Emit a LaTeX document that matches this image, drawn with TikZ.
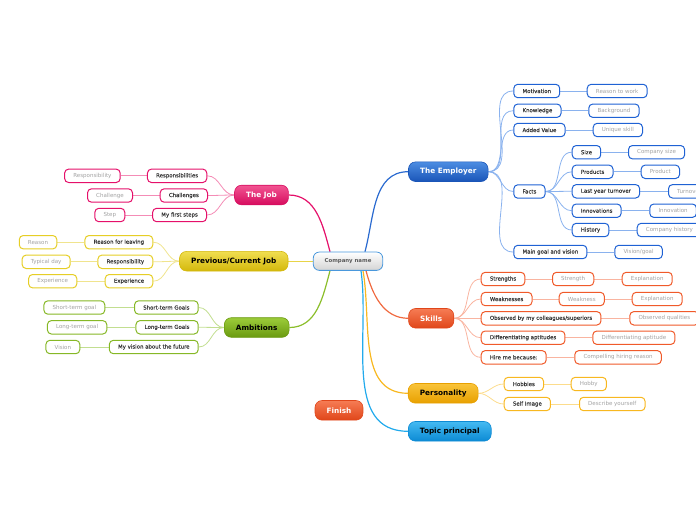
\documentclass[tikz,border=0pt]{standalone}
\usepackage{fontspec}
\setmainfont{DejaVu Sans}
\newfontfamily\subfnt[FakeBold=0.2]{DejaVu Sans}
\usetikzlibrary{calc,backgrounds}

\definecolor{eB}{HTML}{1F62D4}
\definecolor{eL}{HTML}{8AB2EE}
\definecolor{eM}{HTML}{2A6AD0}
\definecolor{eTop}{HTML}{4C8DE2}
\definecolor{eBot}{HTML}{1A55B8}
\definecolor{jB}{HTML}{E5106A}
\definecolor{jL}{HTML}{F48CB6}
\definecolor{jTop}{HTML}{F25592}
\definecolor{jBot}{HTML}{D60C5E}
\definecolor{pB}{HTML}{E6CE26}
\definecolor{pL}{HTML}{F0E48E}
\definecolor{pM}{HTML}{E8D448}
\definecolor{pTop}{HTML}{F0DE50}
\definecolor{pBot}{HTML}{D4B80C}
\definecolor{aB}{HTML}{86B826}
\definecolor{aL}{HTML}{C2DE90}
\definecolor{aM}{HTML}{8BBE2A}
\definecolor{aTop}{HTML}{9CCC3A}
\definecolor{aBot}{HTML}{6A9A10}
\definecolor{sB}{HTML}{F05A2A}
\definecolor{sL}{HTML}{F9B4A0}
\definecolor{sM}{HTML}{F06A40}
\definecolor{sTop}{HTML}{F67C54}
\definecolor{sBot}{HTML}{E0461A}
\definecolor{oB}{HTML}{F8B820}
\definecolor{oL}{HTML}{FCDC8C}
\definecolor{oM}{HTML}{F8B820}
\definecolor{oTop}{HTML}{F9C43A}
\definecolor{oBot}{HTML}{E8A000}
\definecolor{tB}{HTML}{1AA0E4}
\definecolor{tM}{HTML}{22AAEC}
\definecolor{tTop}{HTML}{44BAF2}
\definecolor{tBot}{HTML}{0C8AD4}
\definecolor{cB}{HTML}{4A98DC}

\tikzset{
  subbase/.style={rounded corners=4pt, minimum height=13.4pt, inner ysep=0pt, inner xsep=8.7pt, line width=1pt, fill=white},
  sub/.style={subbase, text=black!78, font=\subfnt\fontsize{5.42}{6}\selectfont},
  leaf/.style={subbase, text=black!36, font=\fontsize{5.52}{6}\selectfont},
  maintopic/.style={rounded corners=7pt, minimum height=19.6pt, inner ysep=0pt, inner xsep=11.6pt, line width=0.6pt, font=\fontsize{7.3}{8}\bfseries\selectfont},
  esub/.style={sub, draw=eB}, eleaf/.style={leaf, draw=eB},
  jsub/.style={sub, draw=jB}, jleaf/.style={leaf, draw=jB},
  psub/.style={sub, draw=pB}, pleaf/.style={leaf, draw=pB},
  asub/.style={sub, draw=aB}, aleaf/.style={leaf, draw=aB},
  ssub/.style={sub, draw=sB}, sleaf/.style={leaf, draw=sB},
  osub/.style={sub, draw=oB}, oleaf/.style={leaf, draw=oB},
  econ/.style={draw=eL, line width=0.8pt},
  jcon/.style={draw=jL, line width=0.8pt},
  pcon/.style={draw=pL, line width=0.8pt},
  acon/.style={draw=aL, line width=0.8pt},
  scon/.style={draw=sL, line width=0.8pt},
  ocon/.style={draw=oL, line width=0.8pt},
  maincon/.style={line width=1.2pt},
}

\begin{document}
\begin{tikzpicture}[x=1pt,y=-1pt]
\useasboundingbox (0,0) rectangle (696,520);
\clip (0,0) rectangle (696,520);

% central
\node[rounded corners=6pt, minimum height=18.3pt, inner ysep=0pt, inner xsep=11.3pt, line width=0.8pt, draw=cB, top color=white, bottom color=black!17, text=black!65, font=\fontsize{5.4}{6}\bfseries\selectfont] (cn) at (348,261.2) {Company name};

% main topics
\node[maintopic, draw=eBot, top color=eTop, bottom color=eBot, text=white] (emp) at (448.3,171.7) {The Employer};
\node[maintopic, draw=jBot, top color=jTop, bottom color=jBot, text=white] (job) at (261.5,195) {The Job};
\node[maintopic, draw=pBot, top color=pTop, bottom color=pBot, text=black] (prev) at (233.8,261.2) {Previous/Current Job};
\node[maintopic, draw=aBot, top color=aTop, bottom color=aBot, text=black] (amb) at (256.7,327.5) {Ambitions};
\node[maintopic, draw=sBot, top color=sTop, bottom color=sBot, text=white] (sk) at (431.2,318.3) {Skills};
\node[maintopic, draw=oBot, top color=oTop, bottom color=oBot, text=black] (pers) at (443.2,393.3) {Personality};
\node[maintopic, draw=tBot, top color=tTop, bottom color=tBot, text=black] (tp) at (449.8,431.3) {Topic principal};
\node[maintopic, draw=sBot, top color=sTop, bottom color=sBot, text=white] (fin) at (339,410.3) {Finish};

% Employer
\node[esub, anchor=west] (mot) at (513.3,91) {Motivation};
\node[esub, anchor=west] (kno) at (513.3,110.7) {Knowledge};
\node[esub, anchor=west] (addv) at (513.3,130) {Added Value};
\node[esub, anchor=west] (facts) at (513.3,191.5) {Facts};
\node[esub, anchor=west] (mgv) at (513.3,252) {Main goal and vision};
\node[eleaf, anchor=west] (rtw) at (586.7,91) {Reason to work};
\node[eleaf, anchor=west] (bkg) at (588.3,110.7) {Background};
\node[eleaf, anchor=west] (uns) at (592.7,130) {Unique skill};
\node[eleaf, anchor=west] (vg) at (614.3,252) {Vision/goal};
\node[esub, anchor=west] (size) at (571.7,152.2) {Size};
\node[esub, anchor=west] (prod) at (571.7,171.8) {Products};
\node[esub, anchor=west] (lyt) at (571.7,191.3) {Last year turnover};
\node[esub, anchor=west] (inno) at (571.7,210.7) {Innovations};
\node[esub, anchor=west] (hist) at (571.7,230) {History};
\node[eleaf, anchor=west] (csize) at (628,152.2) {Company size};
\node[eleaf, anchor=west] (prodl) at (640.7,171.8) {Product};
\node[eleaf, anchor=west] (turn) at (668,191.3) {Turnover};
\node[eleaf, anchor=west] (innol) at (649.3,210.7) {Innovation};
\node[eleaf, anchor=west] (chist) at (636.7,230) {Company history};

% Skills
\node[ssub, anchor=west] (str) at (480.7,279) {Strengths};
\node[ssub, anchor=west] (weak) at (480.7,299) {Weaknesses};
\node[ssub, anchor=west] (obs) at (480.7,318.3) {Observed by my colleagues/superiors};
\node[ssub, anchor=west] (diff) at (480.7,337.7) {Differentiating aptitudes};
\node[ssub, anchor=west] (hire) at (480.7,357.3) {Hire me because:};
\node[sleaf, anchor=west] (strl) at (552,279) {Strength};
\node[sleaf, anchor=west] (ex1) at (621.7,279) {Explanation};
\node[sleaf, anchor=west] (weakl) at (558.7,299) {Weakness};
\node[sleaf, anchor=west] (ex2) at (631.7,299) {Explanation};
\node[sleaf, anchor=west] (obsq) at (629.3,318.3) {Observed qualities};
\node[sleaf, anchor=west] (diffl) at (592.3,337.7) {Differentiating aptitude};
\node[sleaf, anchor=west] (chr) at (574.3,357.3) {Compelling hiring reason};

% Personality
\node[osub, anchor=west] (hob) at (503.7,384) {Hobbies};
\node[osub, anchor=west] (simg) at (503.7,404) {Self Image};
\node[oleaf, anchor=west] (hobl) at (570.7,384) {Hobby};
\node[oleaf, anchor=west] (desc) at (579,404) {Describe yourself};

% The Job
\node[jsub, anchor=east] (resps) at (207.3,175.8) {Responsibilities};
\node[jsub, anchor=east] (chals) at (208,195.5) {Challenges};
\node[jsub, anchor=east] (mfs) at (207,215) {My first steps};
\node[jleaf, anchor=east] (respl) at (120.7,175.8) {Responsibility};
\node[jleaf, anchor=east] (chall) at (133,195.5) {Challenge};
\node[jleaf, anchor=east] (stepl) at (125.3,215) {Step};

% Previous
\node[psub, anchor=east] (rfl) at (153.3,242.2) {Reason for leaving};
\node[psub, anchor=east] (presp) at (153.3,261.8) {Responsibility};
\node[psub, anchor=east] (pexp) at (153.3,281.2) {Experience};
\node[pleaf, anchor=east] (reas) at (57.3,242.2) {Reason};
\node[pleaf, anchor=east] (tday) at (70.7,261.8) {Typical day};
\node[pleaf, anchor=east] (pexpl) at (77.3,281.2) {Experience};

% Ambitions
\node[asub, anchor=east] (stg) at (198.7,307.5) {Short-term Goals};
\node[asub, anchor=east] (ltg) at (198.7,327.3) {Long-term Goals};
\node[asub, anchor=east] (myv) at (198.7,347) {My vision about the future};
\node[aleaf, anchor=east] (stgl) at (105.3,307.5) {Short-term goal};
\node[aleaf, anchor=east] (ltgl) at (107.3,327.3) {Long-term goal};
\node[aleaf, anchor=east] (visl) at (80.3,347) {Vision};

\begin{scope}[on background layer]
% main connectors
\draw[maincon, draw=eM] ($(cn.north)+(17,0)$) to[out=75,in=180] (emp.west);
\draw[maincon, draw=jB] ($(cn.north)+(-18,0)$) to[out=105,in=0] (job.east);
\draw[maincon, draw=pM] (cn.west) -- (prev.east);
\draw[maincon, draw=aM] ($(cn.south)+(-18,0)$) to[out=-105,in=0] (amb.east);
\draw[maincon, draw=sM] ($(cn.south)+(18,0)$) to[out=-75,in=180] (sk.west);
\draw[maincon, draw=oM] ($(cn.south)+(15,0)$) to[out=-80,in=180] (pers.west);
\draw[maincon, draw=tM] ($(cn.south)+(13,0)$) to[out=-82,in=180] (tp.west);

% employer
\foreach \c in {mot,kno,addv,facts,mgv} \draw[econ] (emp.east) to[out=0,in=180] (\c.west);
\draw[econ] (mot.east) -- (rtw.west);
\draw[econ] (kno.east) -- (bkg.west);
\draw[econ] (addv.east) -- (uns.west);
\draw[econ] (mgv.east) -- (vg.west);
\foreach \c in {size,prod,lyt,inno,hist} \draw[econ] (facts.east) to[out=0,in=180] (\c.west);
\draw[econ] (size.east) -- (csize.west);
\draw[econ] (prod.east) -- (prodl.west);
\draw[econ] (lyt.east) -- (turn.west);
\draw[econ] (inno.east) -- (innol.west);
\draw[econ] (hist.east) -- (chist.west);

% skills
\foreach \c in {str,weak,obs,diff,hire} \draw[scon] (sk.east) to[out=0,in=180] (\c.west);
\draw[scon] (str.east) -- (strl.west);
\draw[scon] (strl.east) -- (ex1.west);
\draw[scon] (weak.east) -- (weakl.west);
\draw[scon] (weakl.east) -- (ex2.west);
\draw[scon] (obs.east) -- (obsq.west);
\draw[scon] (diff.east) -- (diffl.west);
\draw[scon] (hire.east) -- (chr.west);

% personality
\foreach \c in {hob,simg} \draw[ocon] (pers.east) to[out=0,in=180] (\c.west);
\draw[ocon] (hob.east) -- (hobl.west);
\draw[ocon] (simg.east) -- (desc.west);

% job
\foreach \c in {resps,chals,mfs} \draw[jcon] (job.west) to[out=180,in=0] (\c.east);
\draw[jcon] (resps.west) -- (respl.east);
\draw[jcon] (chals.west) -- (chall.east);
\draw[jcon] (mfs.west) -- (stepl.east);

% previous
\foreach \c in {rfl,presp,pexp} \draw[pcon] (prev.west) to[out=180,in=0] (\c.east);
\draw[pcon] (rfl.west) -- (reas.east);
\draw[pcon] (presp.west) -- (tday.east);
\draw[pcon] (pexp.west) -- (pexpl.east);

% ambitions
\foreach \c in {stg,ltg,myv} \draw[acon] (amb.west) to[out=180,in=0] (\c.east);
\draw[acon] (stg.west) -- (stgl.east);
\draw[acon] (ltg.west) -- (ltgl.east);
\draw[acon] (myv.west) -- (visl.east);
\end{scope}
\end{tikzpicture}
\end{document}
